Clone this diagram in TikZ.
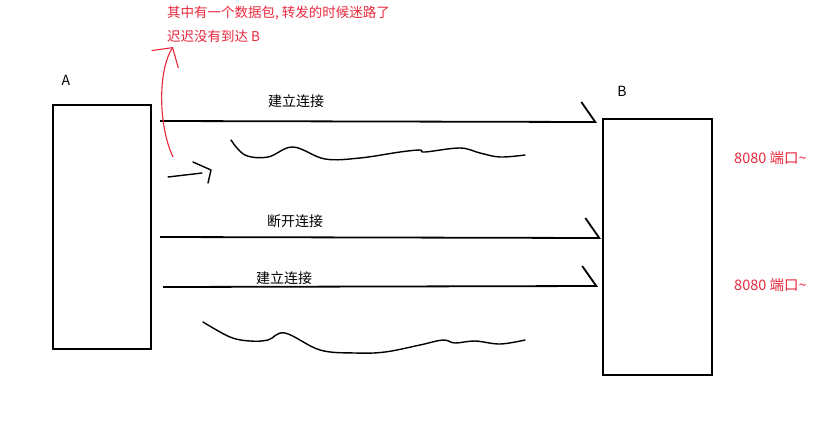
\documentclass[tikz,border=0pt]{standalone}
\usepackage{fontspec}
\setmainfont{Noto Sans CJK SC}
\usetikzlibrary{arrows.meta}

\definecolor{notered}{RGB}{232,40,60}

\begin{document}
\begin{tikzpicture}[x=1pt, y=-1pt,
    host/.style={draw, line width=1.6pt, minimum width=98pt, minimum height=244pt, inner sep=0pt},
    msg/.style={line width=1.8pt, -{Straight Barb[harpoon, length=14pt, width=40pt, line width=1.8pt]}},
    scrawl/.style={line width=1.4pt, line cap=round, line join=round},
    lbl/.style={font=\fontsize{14}{16}\selectfont, inner sep=1pt},
    note/.style={font=\fontsize{13.5}{16}\selectfont, text=notered, inner sep=0pt, anchor=west}]
\useasboundingbox (0,0) rectangle (830,424);

% the two hosts
\node[host] (hostA) at (102,227) {};
\node[host, minimum width=109pt, minimum height=256pt] (hostB) at (657.5,247) {};
\node[lbl] (nameA) at (66,80) {A};
\node[lbl] (nameB) at (622,91) {B};

% connections A -> B
\foreach \i/\ys/\ye/\xs/\xe/\xt/\yt/\txt in {1/121/122/160/597/296/101/建立连接,
                                           2/237/238/160/601/295/221/断开连接,
                                           3/287/286/163/598/284/278/建立连接} {
    \coordinate (s\i) at (\xs,\ys);
    \coordinate (e\i) at (\xe,\ye);
    \node[lbl] (conn\i) at (\xt,\yt) {\txt};
    \draw[msg] (s\i) -- (e\i);
}

% packets wandering about
\draw[scrawl] plot[smooth, tension=0.6] coordinates {(231,140) (245,155) (268,157) (293,147) (325,159) (360,158) (400,152) (420,150) (425,152) (460,148) (480,153) (500,157) (525,155)};
\draw[scrawl] plot[smooth, tension=0.6] coordinates {(203,322) (230,337) (250,341) (268,340) (285,333) (320,350) (355,353) (385,352) (420,345) (443,340) (455,343) (475,341) (500,344) (525,340)};
\draw[scrawl] (168,177) -- (202,173);
\draw[scrawl] (193,162) -- (211,170) -- (208,183);

% the lost packet
\coordinate (lost) at (173,157);
\draw[notered, line width=1.1pt, -{Straight Barb[length=14pt, width=32pt, line width=1.1pt]}]
    (lost) .. controls (158,125) and (158,70) .. (173,47);
\node[note] (why1) at (167,13) {其中有一个数据包, 转发的时候迷路了};
\node[note] (why2) at (167,36) {迟迟没有到达 B};

% port labels
\node[note, font=\fontsize{14.5}{16}\selectfont] (port1) at (734,158) {8080 端口\textasciitilde};
\node[note, font=\fontsize{14.5}{16}\selectfont] (port2) at (734,285) {8080 端口\textasciitilde};
\end{tikzpicture}
\end{document}
